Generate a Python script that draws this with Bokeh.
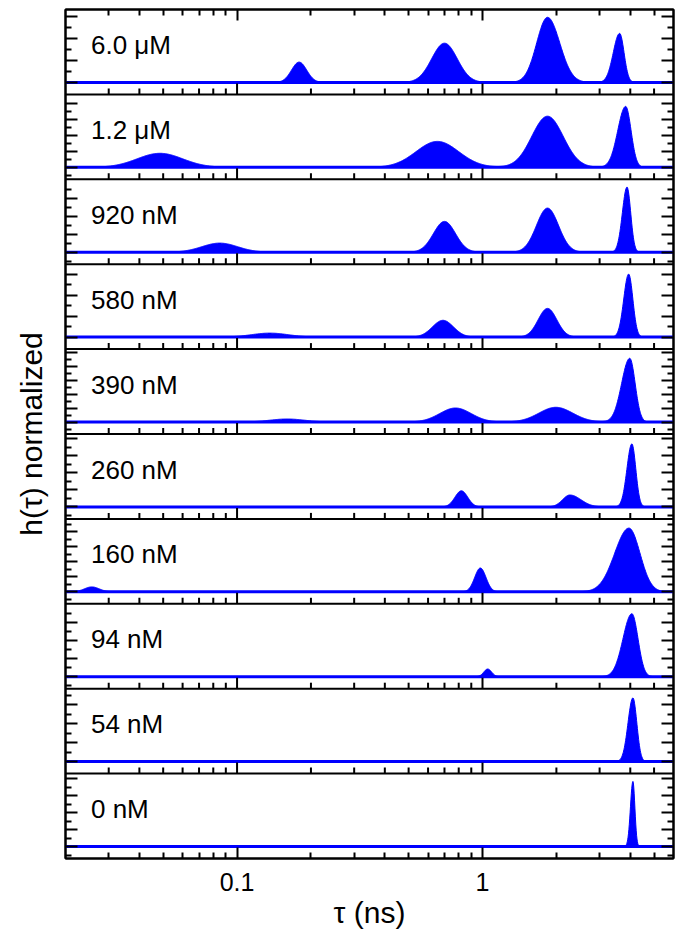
import numpy as np
from bokeh.plotting import figure
from bokeh.models import (Range1d, LinearAxis, LogAxis, FixedTicker, Span,
                          ColumnDataSource, CustomJSTickFormatter)
from bokeh.core.properties import value
from bokeh.embed import file_html
from bokeh.resources import INLINE

# ---------------- data ----------------
panel_labels = ["6.0 \u03bcM", "1.2 \u03bcM", "920 nM", "580 nM", "390 nM",
                "260 nM", "160 nM", "94 nM", "54 nM", "0 nM"]

# each peak: (centre tau in ns, height normalized, left width, right width [decades])
peaks_6000nM = [(0.179, 0.29, 0.031, 0.031), (0.70, 0.56, 0.052, 0.052),
                (1.84, 0.93, 0.044, 0.050), (3.62, 0.70, 0.026, 0.018)]
peaks_1200nM = [(0.0485, 0.20, 0.093, 0.093), (0.655, 0.37, 0.087, 0.087),
                (1.84, 0.73, 0.064, 0.064), (3.83, 0.87, 0.032, 0.022)]
peaks_920nM = [(0.085, 0.13, 0.073, 0.073), (0.70, 0.44, 0.045, 0.045),
               (1.84, 0.63, 0.045, 0.045), (3.88, 0.93, 0.019, 0.015)]
peaks_580nM = [(0.136, 0.057, 0.075, 0.075), (0.69, 0.24, 0.043, 0.043),
               (1.84, 0.41, 0.038, 0.038), (3.94, 0.90, 0.020, 0.017)]
peaks_390nM = [(0.16, 0.043, 0.07, 0.07), (0.776, 0.20, 0.064, 0.064),
               (1.99, 0.21, 0.069, 0.069), (3.98, 0.91, 0.033, 0.022)]
peaks_260nM = [(0.82, 0.23, 0.026, 0.026), (2.27, 0.17, 0.030, 0.045),
               (4.06, 0.90, 0.020, 0.016)]
peaks_160nM = [(0.0256, 0.07, 0.03, 0.03), (0.98, 0.34, 0.023, 0.023),
               (3.95, 0.91, 0.058, 0.045)]
peaks_94nM = [(1.05, 0.11, 0.016, 0.016), (4.06, 0.90, 0.036, 0.025)]
peaks_54nM = [(4.1, 0.91, 0.020, 0.016)]
peaks_0nM = [(4.1, 0.93, 0.010, 0.008)]

all_peaks = [peaks_6000nM, peaks_1200nM, peaks_920nM, peaks_580nM, peaks_390nM,
             peaks_260nM, peaks_160nM, peaks_94nM, peaks_54nM, peaks_0nM]

x_major = [0.1, 1.0]
x_minor = [0.03, 0.04, 0.05, 0.06, 0.07, 0.08, 0.09,
           0.2, 0.3, 0.4, 0.5, 0.6, 0.7, 0.8, 0.9, 2, 3, 4, 5]

# ---------------- layout constants ----------------
FONT = "Liberation Sans"
BLUE = "#0000FF"
PANEL_PX = 84.9
BASE_OFF = 12 / PANEL_PX      # baseline offset inside panel
SCALE = 70 / PANEL_PX         # 1.0 normalized -> 70 px
NP = len(all_peaks)
tick_step_px = [11, 8, 9, 10.5, 7, 8.5, 7.5, 9, 9.5, 8.5]

p = figure(frame_width=608, frame_height=849, x_axis_type="log",
           x_range=Range1d(0.02, 6.0), y_range=Range1d(0, NP),
           output_backend="svg", toolbar_location=None,
           min_border_left=65, min_border_right=10, min_border_top=9,
           min_border_bottom=70)
p.grid.visible = False
p.outline_line_color = "black"
p.outline_line_width = 2
p.background_fill_color = "white"
p.border_fill_color = "white"

xs = np.logspace(np.log10(0.02), np.log10(6.0), 1500)
lx = np.log10(xs)

for k, peaks in enumerate(all_peaks):
    bottom = NP - 1 - k
    base = bottom + BASE_OFF
    h = np.zeros_like(xs)
    for (c, a, wl, wr) in peaks:
        lc = np.log10(c)
        w = np.where(lx < lc, wl, wr)
        h += a * np.exp(-0.5 * ((lx - lc) / w) ** 2)
    yb = np.full_like(xs, base)
    yt = base + h * SCALE
    src = ColumnDataSource(dict(x=xs, yb=yb, yt=yt))
    p.varea(x="x", y1="yb", y2="yt", source=src, fill_color=BLUE)
    p.line(x="x", y="yt", source=src, line_color=BLUE, line_width=1)
    p.line(x="x", y="yb", source=src, line_color=BLUE, line_width=3)

# panel labels
lab_y = [NP - k - 35.5 / PANEL_PX for k in range(NP)]
p.text(x=[0.0254] * NP, y=lab_y, text=panel_labels, text_font=value(FONT),
       text_font_size=value("26px"), text_baseline="alphabetic",
       text_align="left", text_color="black")

# separators between panels
for k in range(1, NP):
    p.add_layout(Span(location=k, dimension="width", line_color="black",
                      line_width=2))

# inward x ticks at each separator (bottom of each upper panel)
sx, sy0, sy1 = [], [], []
for k in range(1, NP):
    for t in x_major:
        sx.append(t); sy0.append(k); sy1.append(k + 11 / PANEL_PX)
    for t in x_minor:
        sx.append(t); sy0.append(k); sy1.append(k + 6 / PANEL_PX)
p.segment(x0=sx, y0=sy0, x1=sx, y1=sy1, line_color="black", line_width=2)

# y ticks for every panel
y_major, y_minor = [], []
for k in range(NP):
    bottom = NP - 1 - k
    base = bottom + BASE_OFF
    step = tick_step_px[k] / PANEL_PX
    for j in range(-3, 20):
        y = base + j * step
        if bottom + 2.5 / PANEL_PX < y < bottom + 1 - 2.5 / PANEL_PX:
            (y_major if j % 2 == 0 else y_minor).append(y)

blank = CustomJSTickFormatter(code="return '';")

# bottom axis
xa = p.xaxis[0]
xa.ticker = FixedTicker(ticks=x_major, minor_ticks=x_minor)
xa.formatter = CustomJSTickFormatter(
    code="return tick < 1 ? tick.toFixed(1) : tick.toFixed(0);")
xa.axis_label = "\u03c4 (ns)"
xa.major_label_text_font = FONT
xa.major_label_text_font_size = "25px"
xa.major_label_text_color = "black"
xa.major_label_standoff = 14
xa.axis_label_text_font = FONT
xa.axis_label_text_font_size = "30px"
xa.axis_label_text_font_style = "normal"
xa.axis_label_text_color = "black"
xa.axis_label_standoff = 2

top = LogAxis(ticker=FixedTicker(ticks=x_major, minor_ticks=x_minor),
              formatter=blank, major_label_standoff=0)
p.add_layout(top, "above")

ya = p.yaxis[0]
ya.ticker = FixedTicker(ticks=y_major, minor_ticks=y_minor)
ya.formatter = blank
ya.major_label_standoff = 0
ya.axis_label = "h(\u03c4) normalized"
ya.axis_label_text_font = FONT
ya.axis_label_text_font_size = "30px"
ya.axis_label_text_font_style = "normal"
ya.axis_label_text_color = "black"
ya.axis_label_standoff = 18

right = LinearAxis(ticker=FixedTicker(ticks=y_major, minor_ticks=y_minor),
                   formatter=blank, major_label_standoff=0)
p.add_layout(right, "right")

for ax in [xa, top]:
    ax.major_tick_in = 11
    ax.major_tick_out = 0
    ax.minor_tick_in = 6
    ax.minor_tick_out = 0
for ax in [ya, right]:
    ax.major_tick_in = 12
    ax.major_tick_out = 0
    ax.minor_tick_in = 6
    ax.minor_tick_out = 0
for ax in [xa, top, ya, right]:
    ax.axis_line_width = 2
    ax.axis_line_color = "black"
    ax.major_tick_line_width = 2
    ax.minor_tick_line_width = 2
    ax.major_tick_line_color = "black"
    ax.minor_tick_line_color = "black"

open("out.html", "w").write(file_html(p, INLINE))
